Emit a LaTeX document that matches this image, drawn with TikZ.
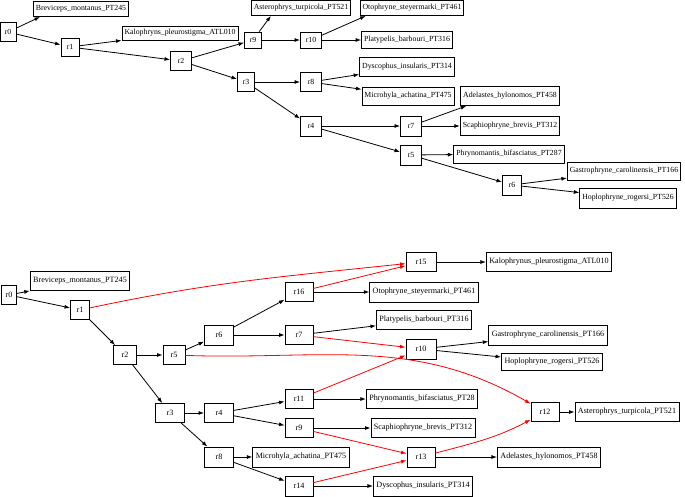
\documentclass[tikz,border=0pt]{standalone}
\usepackage{fontspec}
\setmainfont{Liberation Serif}
\usetikzlibrary{arrows.meta,calc}
\begin{document}
\begin{tikzpicture}[x=1pt,y=-1pt,
  tl/.style={draw,line width=0.9pt,font=\fontsize{7.8}{9}\selectfont,inner sep=0pt,inner xsep=2.5pt,minimum height=17pt},
  bl/.style={draw,line width=0.9pt,font=\fontsize{8.1}{9}\selectfont,inner sep=0pt,inner xsep=3pt,minimum height=19pt},
  tr/.style={draw,line width=0.9pt,font=\fontsize{7.8}{9}\selectfont,inner sep=0pt},
  br/.style={draw,line width=0.9pt,font=\fontsize{8.1}{9}\selectfont,inner sep=0pt,minimum height=19pt},
  edge/.style={-{Latex[length=5.5pt,width=4pt]},line width=0.8pt},
  redge/.style={edge,red}]
\useasboundingbox (0,0) rectangle (685,496);
% ---------- top tree ----------
\node[tr,minimum width=16pt,minimum height=19pt] (a0) at (8,32) {r0};
\node[tr,minimum width=18pt,minimum height=18pt] (a1) at (70,47) {r1};
\node[tr,minimum width=21pt,minimum height=19pt] (a2) at (181,61) {r2};
\node[tr,minimum width=17pt,minimum height=16pt] (a9) at (253,40) {r9};
\node[tr,minimum width=21pt,minimum height=16pt] (a10) at (311,40) {r10};
\node[tr,minimum width=17pt,minimum height=19pt] (a3) at (246,82) {r3};
\node[tr,minimum width=21pt,minimum height=19pt] (a8) at (311,82) {r8};
\node[tr,minimum width=21pt,minimum height=20pt] (a4) at (311,126) {r4};
\node[tr,minimum width=21pt,minimum height=20pt] (a7) at (411,126) {r7};
\node[tr,minimum width=21pt,minimum height=20pt] (a5) at (411,155) {r5};
\node[tr,minimum width=19pt,minimum height=20pt] (a6) at (512,185) {r6};

\node[tl,minimum height=15pt] (tbrev) at (81,9) {Breviceps\_montanus\_PT245};
\node[tl,minimum height=14pt] (tkalo) at (180,33) {Kalophryns\_pleurostigma\_ATL010};
\node[tl,minimum height=15pt] (taster) at (301,8) {Asterophrys\_turpicola\_PT521};
\node[tl,minimum height=15pt] (toto) at (412,8) {Otophryne\_steyermarki\_PT461};
\node[tl] (tplaty) at (407,40) {Platypelis\_barbouri\_PT316};
\node[tl,minimum height=19pt] (tdysc) at (407,67) {Dyscophus\_insularis\_PT314};
\node[tl,minimum height=18pt] (tmicro) at (408,96) {Microhyla\_achatina\_PT475};
\node[tl,minimum height=19pt] (tadel) at (510,96) {Adelastes\_hylonomos\_PT458};
\node[tl,minimum height=19pt] (tscaph) at (510,126) {Scaphiophryne\_brevis\_PT312};
\node[tl,minimum height=18pt] (tphry) at (509,154) {Phrynomantis\_bifasciatus\_PT287};
\node[tl,minimum height=18pt] (tgastro) at (624,171) {Gastrophryne\_carolinensis\_PT166};
\node[tl,minimum height=20pt] (thoplo) at (628,198) {Hoplophryne\_rogersi\_PT526};

\draw[edge] (a0) -- ($(tbrev.south west)+(7,0)$);
\draw[edge] (a0) -- (a1);
\draw[edge] (a1) -- (tkalo);
\draw[edge] (a1) -- (a2);
\draw[edge] (a2) -- (a9);
\draw[edge] (a2) -- (a3);
\draw[edge] (a9) -- ($(taster.south west)+(20,0)$);
\draw[edge] (a9) -- (a10);
\draw[edge] (a10) -- ($(toto.south west)+(6,0)$);
\draw[edge] (a10) -- (tplaty);
\draw[edge] (a3) -- (a8);
\draw[edge] (a3) -- (a4);
\draw[edge] (a8) -- (tdysc);
\draw[edge] (a8) -- (tmicro);
\draw[edge] (a4) -- (a7);
\draw[edge] (a4) -- (a5);
\draw[edge] (a7) -- ($(tadel.south west)+(6,0)$);
\draw[edge] (a7) -- (tscaph);
\draw[edge] (a5) -- (tphry);
\draw[edge] (a5) -- (a6);
\draw[edge] (a6) -- (tgastro);
\draw[edge] (a6) -- (thoplo);

% ---------- bottom tree ----------
\node[br,minimum width=15pt] (b0) at (9,295) {r0};
\node[br,minimum width=19pt] (b1) at (80,310) {r1};
\node[br,minimum width=23pt] (b2) at (125,355) {r2};
\node[br,minimum width=22pt] (b5) at (174,355) {r5};
\node[br,minimum width=29pt,minimum height=20pt] (b6) at (219,335) {r6};
\node[br,minimum width=28pt] (b16) at (299,292) {r16};
\node[br,minimum width=30pt] (b15) at (421,262) {r15};
\node[br,minimum width=28pt] (b7) at (299,335) {r7};
\node[br,minimum width=30pt,minimum height=20pt] (b10) at (421,349) {r10};
\node[br,minimum width=29pt] (b3) at (170,413) {r3};
\node[br,minimum width=29pt] (b4) at (219,413) {r4};
\node[br,minimum width=28pt] (b11) at (299,399) {r11};
\node[br,minimum width=28pt] (b9) at (299,428) {r9};
\node[br,minimum width=29pt,minimum height=20pt] (b8) at (219,457) {r8};
\node[br,minimum width=28pt,minimum height=20pt] (b14) at (299,486) {r14};
\node[br,minimum width=28pt,minimum height=20pt] (b13) at (421,457) {r13};
\node[br,minimum width=28pt] (b12) at (545,412) {r12};

\node[bl] (bbrev) at (80,281) {Breviceps\_montanus\_PT245};
\node[bl] (bkalo) at (549,262) {Kalophrynus\_pleurostigma\_ATL010};
\node[bl,minimum height=20pt] (boto) at (424,292) {Otophryne\_steyermarki\_PT461};
\node[bl] (bplaty) at (424,320) {Platypelis\_barbouri\_PT316};
\node[bl,minimum height=20pt] (bgastro) at (548,335) {Gastrophryne\_carolinensis\_PT166};
\node[bl,minimum height=17pt] (bhoplo) at (552,362) {Hoplophryne\_rogersi\_PT526};
\node[bl,minimum height=20pt] (bmicro) at (301,457) {Microhyla\_achatina\_PT475};
\node[bl] (bphry) at (422,399) {Phrynomantis\_bifasciatus\_PT28};
\node[bl] (bscaph) at (423,428) {Scaphiophryne\_brevis\_PT312};
\node[bl,minimum height=20pt] (bdysc) at (423,486) {Dyscophus\_insularis\_PT314};
\node[bl,minimum height=20pt] (badel) at (549,457) {Adelastes\_hylonomos\_PT458};
\node[bl] (baster) at (627,412) {Asterophrys\_turpicola\_PT521};

\draw[edge] (b0) -- (bbrev);
\draw[edge] (b0) -- (b1);
\draw[edge] (b1) -- (b2);
\draw[edge] (b2) -- (b5);
\draw[edge] (b2) -- (b3);
\draw[edge] (b5) -- (b6);
\draw[edge] (b6) -- (b16);
\draw[edge] (b6) -- (b7);
\draw[edge] (b16) -- (boto);
\draw[edge] (b7) -- (bplaty);
\draw[edge] (b15) -- (bkalo);
\draw[edge] (b10) -- (bgastro);
\draw[edge] (b10) -- (bhoplo);
\draw[edge] (b3) -- (b4);
\draw[edge] (b3) -- (b8);
\draw[edge] (b4) -- (b11);
\draw[edge] (b4) -- (b9);
\draw[edge] (b8) -- (bmicro);
\draw[edge] (b8) -- (b14);
\draw[edge] (b11) -- (bphry);
\draw[edge] (b9) -- (bscaph);
\draw[edge] (b14) -- (bdysc);
\draw[edge] (b13) -- (badel);
\draw[edge] (b12) -- (baster);

\draw[redge] (b1) to[out=12,in=186] (b15);
\draw[redge] (b16) -- (b15);
\draw[redge] (b7) -- (b10);
\draw[redge] (b11) -- (b10);
\draw[redge] (b5) to[out=-2,in=150] (b12);
\draw[redge] (b9) -- (b13);
\draw[redge] (b14) -- (b13);
\draw[redge] (b13) to[out=15,in=208] (b12);
\end{tikzpicture}
\end{document}
